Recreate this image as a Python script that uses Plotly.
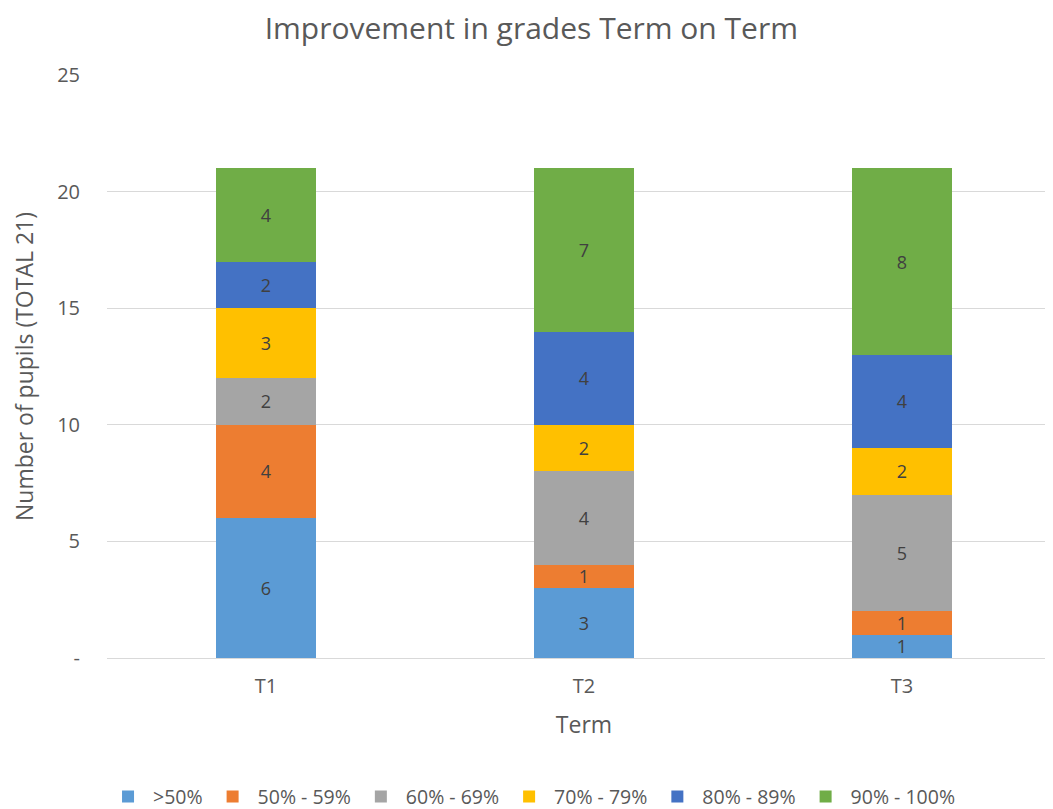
import plotly.graph_objects as go

terms = ["T1", "T2", "T3"]
bandas = [">50%", "50% - 59%", "60% - 69%", "70% - 79%", "80% - 89%", "90% - 100%"]
v_menos50 = [6, 3, 1]
v_50_59 = [4, 1, 1]
v_60_69 = [2, 4, 5]
v_70_79 = [3, 2, 2]
v_80_89 = [2, 4, 4]
v_90_100 = [4, 7, 8]
y_ticks = [0, 5, 10, 15, 20, 25]
y_labels = ["-", "5", "10", "15", "20", "25"]

valores = [v_menos50, v_50_59, v_60_69, v_70_79, v_80_89, v_90_100]
cores = ["#5B9BD5", "#ED7D31", "#A5A5A5", "#FFC000", "#4472C4", "#70AD47"]

fig = go.Figure()
for nome, vals, cor in zip(bandas, valores, cores):
    fig.add_trace(go.Bar(
        x=terms, y=vals, name=nome, marker=dict(color=cor, line=dict(width=0)),
        text=vals, textposition="inside", insidetextanchor="middle", textangle=0,
        constraintext="none", cliponaxis=False,
        textfont=dict(color="#404040", size=18), width=0.315,
    ))

# a pagina tem margem de 8px no body, por isso tudo e deslocado 8px
fig.update_layout(
    barmode="stack",
    width=1053, height=809,
    margin=dict(l=99, r=0, t=67, b=159, autoexpand=False),
    plot_bgcolor="white", paper_bgcolor="white",
    font=dict(family="Open Sans", size=19, color="#595959"),
    title=dict(text="Improvement in grades Term on Term", x=0.497, xanchor="center",
               y=0.975, yanchor="middle", font=dict(size=30, color="#595959")),
    legend=dict(orientation="h", x=0.445, xanchor="center", y=-0.238, yanchor="middle",
                font=dict(size=19.5), traceorder="normal", itemwidth=40),
    uniformtext=dict(mode="show", minsize=10),
)
fig.update_xaxes(title=dict(text="Term", font=dict(size=23), standoff=18), automargin=False,
                 range=[-0.5, 2.5], showgrid=False, showline=False, ticks="",
                 tickfont=dict(size=20), ticklabelstandoff=14)
fig.update_yaxes(title=dict(text="Number of pupils (TOTAL 21)", font=dict(size=23), standoff=22),
                 automargin=False,
                 range=[0, 25], tickvals=y_ticks, ticktext=y_labels,
                 showgrid=True, gridcolor="#D9D9D9", gridwidth=1.3, zeroline=True,
                 zerolinecolor="#D9D9D9", zerolinewidth=1.3, ticks="",
                 tickfont=dict(size=20), ticklabelstandoff=26)

fig.write_html("out.html")
